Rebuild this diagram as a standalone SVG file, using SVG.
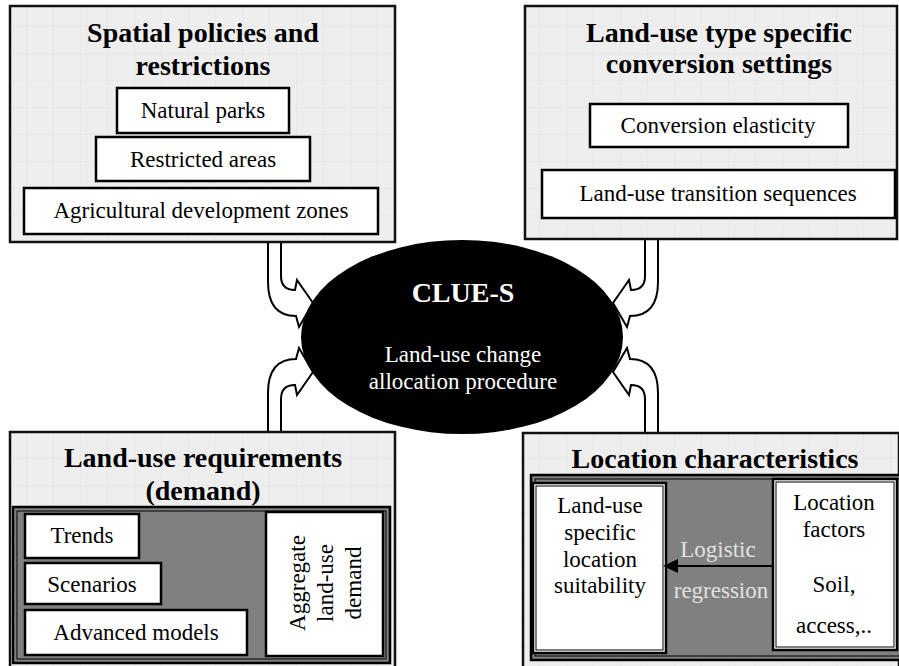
<svg xmlns="http://www.w3.org/2000/svg" width="899" height="666" viewBox="0 0 899 666">
<defs>
<pattern id="grid" width="27" height="27" patternUnits="userSpaceOnUse">
<rect width="27" height="27" fill="#eeeeee"/>
<path d="M27,0 V27 M0,27 H27" stroke="#e5e5e5" stroke-width="1" fill="none"/>
</pattern>
<style>
.outer{fill:url(#grid);stroke:#111;stroke-width:2.5}
.wbox{fill:#fff;stroke:#000;stroke-width:2.5}
.panel{fill:#808080;stroke:#000;stroke-width:2.5}
.panelin{fill:none;stroke:#000;stroke-width:1}
.title{font-family:"Liberation Serif","Times New Roman",serif;font-weight:bold;font-size:28px;fill:#000;text-anchor:middle}
.t{font-family:"Liberation Serif","Times New Roman",serif;font-size:23px;fill:#000;text-anchor:middle}
.w{fill:#fff}
.lg{fill:#e2e2e2}
.arr{fill:#fff;stroke:#000;stroke-width:2;stroke-linejoin:miter}
</style>
</defs>
<rect width="899" height="666" fill="#fff"/>

<g id="connectors">
<path id="arr-tl" class="arr" d="M281,240 V276 Q281,290 295,290 L297,280 L313,303 L299,327 L296,316 Q268,316 268,282 V240"/>
<path id="arr-tr" class="arr" d="M645,240 V276 Q645,290 631,290 L629,280 L613,303 L627,327 L630,316 Q658,316 658,282 V240"/>
<path id="arr-bl" class="arr" d="M281,434 V399 Q281,385 295,385 L297,395 L313,372 L299,348 L296,359 Q268,359 268,393 V434"/>
<path id="arr-br" class="arr" d="M645,434 V399 Q645,385 631,385 L629,395 L613,372 L627,348 L630,359 Q658,359 658,393 V434"/>
</g>

<g id="spatial-policies">
<rect class="outer" x="10" y="6" width="385" height="236"/>
<text class="title" x="203" y="42">Spatial policies and</text>
<text class="title" x="203" y="75">restrictions</text>
<rect class="wbox" x="117" y="88" width="172" height="45"/>
<text class="t" x="203" y="118">Natural parks</text>
<rect class="wbox" x="96" y="137" width="214" height="44"/>
<text class="t" x="203" y="167">Restricted areas</text>
<rect class="wbox" x="24" y="188" width="354" height="46"/>
<text class="t" x="201" y="218">Agricultural development zones</text>
</g>

<g id="conversion-settings">
<rect class="outer" x="525" y="6" width="372" height="233"/>
<text class="title" x="719" y="42">Land-use type specific</text>
<text class="title" x="719" y="73">conversion settings</text>
<rect class="wbox" x="590" y="104" width="258" height="43"/>
<text class="t" x="718" y="133">Conversion elasticity</text>
<rect class="wbox" x="542" y="170" width="353" height="48"/>
<text class="t" x="718" y="201">Land-use transition sequences</text>
</g>

<g id="clue-s">
<ellipse cx="462" cy="337" rx="161" ry="97" fill="#000"/>
<text class="title w" x="463" y="302">CLUE-S</text>
<text class="t w" x="463" y="362">Land-use change</text>
<text class="t w" x="463" y="389">allocation procedure</text>
</g>

<g id="land-use-requirements">
<rect class="outer" x="10" y="432" width="385" height="240"/>
<text class="title" x="203" y="467">Land-use requirements</text>
<text class="title" x="203" y="500">(demand)</text>
<rect class="panel" x="13" y="507" width="377" height="156"/>
<rect class="panelin" x="17" y="511" width="369" height="148"/>
<rect class="wbox" x="25" y="514" width="114" height="44"/>
<text class="t" x="82" y="543">Trends</text>
<rect class="wbox" x="25" y="563" width="136" height="41"/>
<text class="t" x="92" y="592">Scenarios</text>
<rect class="wbox" x="25" y="610" width="222" height="45"/>
<text class="t" x="136" y="640">Advanced models</text>
<rect class="wbox" x="266" y="512" width="117" height="144"/>
<text class="t" transform="translate(305,583) rotate(-90)">Aggregate</text>
<text class="t" transform="translate(333,583) rotate(-90)">land-use</text>
<text class="t" transform="translate(361,583) rotate(-90)">demand</text>
</g>

<g id="location-characteristics">
<rect class="outer" x="523" y="433" width="376" height="240"/>
<text class="title" x="715" y="468">Location characteristics</text>
<rect class="panel" x="531" y="475" width="370" height="185"/>
<rect class="panelin" x="535" y="479" width="370" height="177"/>
<rect class="wbox" x="533" y="483" width="133" height="170"/>
<rect class="panelin" x="536" y="486" width="127" height="164"/>
<rect class="wbox" x="773" y="479" width="124" height="171"/>
<rect class="panelin" x="776" y="482" width="118" height="165"/>
<text class="t" x="600" y="513">Land-use</text>
<text class="t" x="600" y="540">specific</text>
<text class="t" x="600" y="567">location</text>
<text class="t" x="600" y="593">suitability</text>
<text class="t" x="834" y="510">Location</text>
<text class="t" x="834" y="537">factors</text>
<text class="t" x="834" y="592">Soil,</text>
<text class="t" x="834" y="633">access,..</text>
<text class="t lg" x="718" y="557">Logistic</text>
<text class="t lg" x="721" y="598">regression</text>
<line x1="773" y1="566" x2="676" y2="566" stroke="#000" stroke-width="2"/>
<polygon points="663,566 678,559 678,573" fill="#000"/>
</g>
</svg>
